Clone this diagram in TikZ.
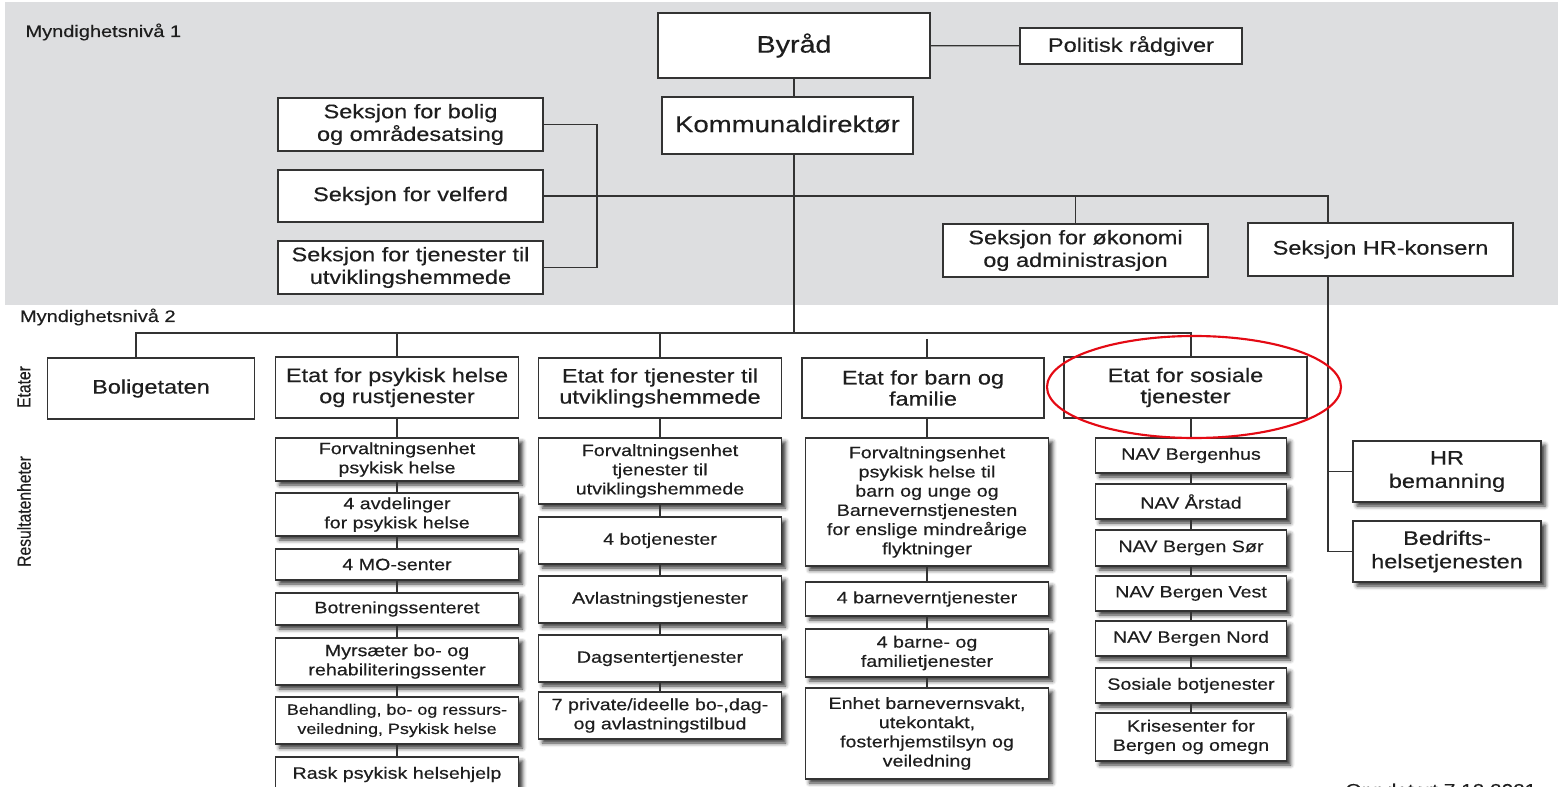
\documentclass[tikz,border=0pt]{standalone}
\usepackage{fontspec}
\setmainfont{Liberation Sans}[FakeStretch=1.2,FakeBold=0.35]
\newfontfamily\rotfont{Liberation Sans}[FakeStretch=0.833,FakeBold=0.35]
\usetikzlibrary{shadows.blur}

\definecolor{bandgray}{RGB}{221,222,224}
\definecolor{linegray}{RGB}{51,51,51}
\definecolor{inkgray}{RGB}{30,30,30}
\definecolor{markred}{RGB}{228,10,20}

\tikzset{every picture/.style={line width=0.75pt}}
\tikzset{
  orgbox/.style={draw=linegray, fill=white, line width=1.1pt, align=center, inner sep=0pt, text=inkgray},
  boxsize/.style 2 args={minimum width=#1*0.75pt, minimum height=#2*0.75pt},
  topfont/.style={font=\fontsize{14.7}{17}\selectfont},
  etatfont/.style={font=\fontsize{14.7}{15.8}\selectfont},
  unitfont/.style={font=\fontsize{12.3}{14.4}\selectfont},
  unitbox/.style={orgbox, unitfont, blur shadow={shadow xshift=3pt, shadow yshift=-3pt, shadow blur radius=3pt, shadow opacity=80}},
  link/.style={draw=linegray, line width=0.95pt},
  levellabel/.style={font=\fontsize{12.5}{14}\selectfont, text=inkgray, inner sep=0pt},
  sidelabel/.style={font=\rotfont\fontsize{14.1}{16}\selectfont, rotate=90, inner sep=0pt, text=inkgray},
}

\begin{document}
\begin{tikzpicture}[x=0.75pt,y=0.75pt,yscale=-1,xscale=1]
\clip (0,0) rectangle (1558,787);

%Shape: Rectangle [gray band, level 1]
\fill[bandgray] (5,2) rectangle (1558,305);

% Text Node
\node[levellabel, anchor=base west] (niva1) at (25,37) {Myndighetsnivå 1};
% Text Node
\node[levellabel, anchor=base west] (niva2) at (19.5,322) {Myndighetsnivå 2};
% Text Node
\node[sidelabel] (etater) at (24,387) {Etater};
% Text Node
\node[sidelabel] (resultat) at (24,511.5) {Resultatenheter};

%Shape: Rectangle [level 1 boxes]
\node[orgbox, boxsize={272}{65}, font=\fontsize{17.9}{20}\selectfont] (byraad) at (794,45.5) {Byråd};
\node[orgbox, topfont, boxsize={222}{36}] (politisk) at (1131,46) {Politisk rådgiver};
\node[orgbox, boxsize={251}{57}, font=\fontsize{17.2}{20}\selectfont] (kommunal) at (787.5,125.5) {\raisebox{2.5pt}{Kommunaldirektør}};
\node[orgbox, topfont, boxsize={265}{53}] (bolig) at (410.5,124.5) {Seksjon for bolig\\og områdesatsing};
\node[orgbox, topfont, boxsize={265}{52}] (velferd) at (410.5,196) {Seksjon for velferd};
\node[orgbox, topfont, boxsize={265}{53}] (sutv) at (410.5,267.5) {Seksjon for tjenester til\\utviklingshemmede};
\node[orgbox, topfont, boxsize={265}{53}] (okonomi) at (1075.5,250.5) {Seksjon for økonomi\\og administrasjon};
\node[orgbox, topfont, boxsize={265}{53}] (hrk) at (1380.5,249.5) {Seksjon HR-konsern};

%Shape: Rectangle [etater]
\node[orgbox, etatfont, boxsize={207}{61}] (boligetat) at (151,388.5) {Boligetaten};
\node[orgbox, etatfont, boxsize={243}{61}] (epsyk) at (397,387.5) {Etat for psykisk helse\\og rustjenester};
\node[orgbox, etatfont, boxsize={243}{60}] (etjen) at (660,388) {Etat for tjenester til\\utviklingshemmede};
\node[orgbox, etatfont, boxsize={242}{60}] (ebarn) at (923,388) {Etat for barn og\\familie};
\node[orgbox, etatfont, boxsize={243}{61}] (esos) at (1185.5,387.5) {Etat for sosiale\\tjenester};

%Shape: Rectangle [resultatenheter, psykisk helse]
\node[unitbox, boxsize={243}{43}] (p1) at (397,459.5) {Forvaltningsenhet\\psykisk helse};
\node[unitbox, boxsize={243}{43}] (p2) at (397,514.5) {4 avdelinger\\for psykisk helse};
\node[unitbox, boxsize={243}{31}] (p3) at (397,564.5) {4 MO-senter};
\node[unitbox, boxsize={243}{32}] (p4) at (397,609) {Botreningssenteret};
\node[unitbox, boxsize={243}{47}] (p5) at (397,661.5) {Myrsæter bo- og\\rehabiliteringssenter};
\node[unitbox, boxsize={243}{47}, font=\fontsize{11.2}{14.4}\selectfont] (p6) at (397,720.5) {Behandling, bo- og ressurs-\\veiledning, Psykisk helse};
\node[unitbox, boxsize={243}{35}] (p7) at (397,774.5) {Rask psykisk helsehjelp};

%Shape: Rectangle [resultatenheter, utviklingshemmede]
\node[unitbox, boxsize={243}{66}] (t1) at (660,471) {Forvaltningsenhet\\tjenester til\\utviklingshemmede};
\node[unitbox, boxsize={243}{47}] (t2) at (660,540.5) {4 botjenester};
\node[unitbox, boxsize={243}{47}] (t3) at (660,599.5) {Avlastningstjenester};
\node[unitbox, boxsize={243}{47}] (t4) at (660,658.5) {Dagsentertjenester};
\node[unitbox, boxsize={243}{47}] (t5) at (660,715.5) {7 private/ideelle bo-,dag-\\og avlastningstilbud};

%Shape: Rectangle [resultatenheter, barn og familie]
\node[unitbox, boxsize={243}{128}] (b1) at (927,502) {Forvaltningsenhet\\psykisk helse til\\barn og unge og\\Barnevernstjenesten\\for enslige mindreårige\\flyktninger};
\node[unitbox, boxsize={243}{34}] (b2) at (927,599) {4 barneverntjenester};
\node[unitbox, boxsize={243}{48}] (b3) at (927,653) {4 barne- og\\familietjenester};
\node[unitbox, boxsize={243}{91}] (b4) at (927,733.5) {Enhet barnevernsvakt,\\utekontakt,\\fosterhjemstilsyn og\\veiledning};

%Shape: Rectangle [resultatenheter, sosiale tjenester]
\node[unitbox, boxsize={191}{35}] (n1) at (1191,455.5) {NAV Bergenhus};
\node[unitbox, boxsize={191}{35}] (n2) at (1191,501.5) {NAV Årstad};
\node[unitbox, boxsize={191}{36}] (n3) at (1191,548) {NAV Bergen Sør};
\node[unitbox, boxsize={191}{35}] (n4) at (1191,593.5) {NAV Bergen Vest};
\node[unitbox, boxsize={191}{35}] (n5) at (1191,638.5) {NAV Bergen Nord};
\node[unitbox, boxsize={191}{35}] (n6) at (1191,685.5) {Sosiale botjenester};
\node[unitbox, boxsize={191}{48}] (n7) at (1191,737) {Krisesenter for\\Bergen og omegn};

%Shape: Rectangle [HR]
\node[unitbox, font=\fontsize{14.7}{17.5}\selectfont, boxsize={188}{61}] (hrbem) at (1447,471.5) {HR\\bemanning};
\node[unitbox, font=\fontsize{14.7}{17.5}\selectfont, boxsize={188}{61}] (bedrift) at (1447,551.5) {Bedrifts-\\helsetjenesten};

% Text Node
\node[anchor=north west, inner sep=0pt, text=inkgray, font=\fontsize{13}{15}\selectfont] (oppdatert) at (1345,783) {Oppdatert 7.12.2021};

\coordinate (brk) at (597,0);
\coordinate (hrx) at (1328,197);
\coordinate (busL) at (136,333);
\coordinate (barngap) at (0,339);

%Straight Lines [level 1]
\draw[link] (byraad) -- (politisk);
\draw[link] (byraad.south) -- (byraad.south |- kommunal.north);
\draw[link] (byraad.south |- kommunal.south) -- (byraad.south |- busL);
\draw[link] (bolig.east) -- (bolig.east -| brk) -- (brk |- sutv.east) -- (sutv.east);
\draw[link] (velferd.east) -- (velferd.east -| hrx) -- (hrx |- hrk.north);
\draw[link] (okonomi.north |- velferd.east) -- (okonomi.north);
\draw[link] (hrx |- hrk.south) -- (hrx |- bedrift.west) -- (bedrift.west);
\draw[link] (hrx |- hrbem.west) -- (hrbem.west);

%Straight Lines [level 2]
\draw[link] (busL |- boligetat.north) -- (busL) -- (n1.north |- busL) -- (n1.north |- esos.north);
\draw[link] (epsyk.north |- busL) -- (epsyk.north);
\draw[link] (etjen.north |- busL) -- (etjen.north);
\draw[link] (b1.north |- barngap) -- (b1.north |- ebarn.north);

%Straight Lines [columns]
\draw[link] (epsyk) -- (p1);
\draw[link] (p1) -- (p2);
\draw[link] (p2) -- (p3);
\draw[link] (p3) -- (p4);
\draw[link] (p4) -- (p5);
\draw[link] (p5) -- (p6);
\draw[link] (p6) -- (p7);
\draw[link] (etjen) -- (t1);
\draw[link] (t1) -- (t2);
\draw[link] (t2) -- (t3);
\draw[link] (t3) -- (t4);
\draw[link] (t4) -- (t5);
\draw[link] (b1.north |- ebarn.south) -- (b1.north);
\draw[link] (b1) -- (b2);
\draw[link] (b2) -- (b3);
\draw[link] (b3) -- (b4);
\draw[link] (n1.north |- esos.south) -- (n1.north);
\draw[link] (n1) -- (n2);
\draw[link] (n2) -- (n3);
\draw[link] (n3) -- (n4);
\draw[link] (n4) -- (n5);
\draw[link] (n5) -- (n6);
\draw[link] (n6) -- (n7);

%Shape: Ellipse [highlight]
\draw[markred, line width=1.6pt] (1194,387) ellipse [x radius=147, y radius=51];

\end{tikzpicture}
\end{document}
